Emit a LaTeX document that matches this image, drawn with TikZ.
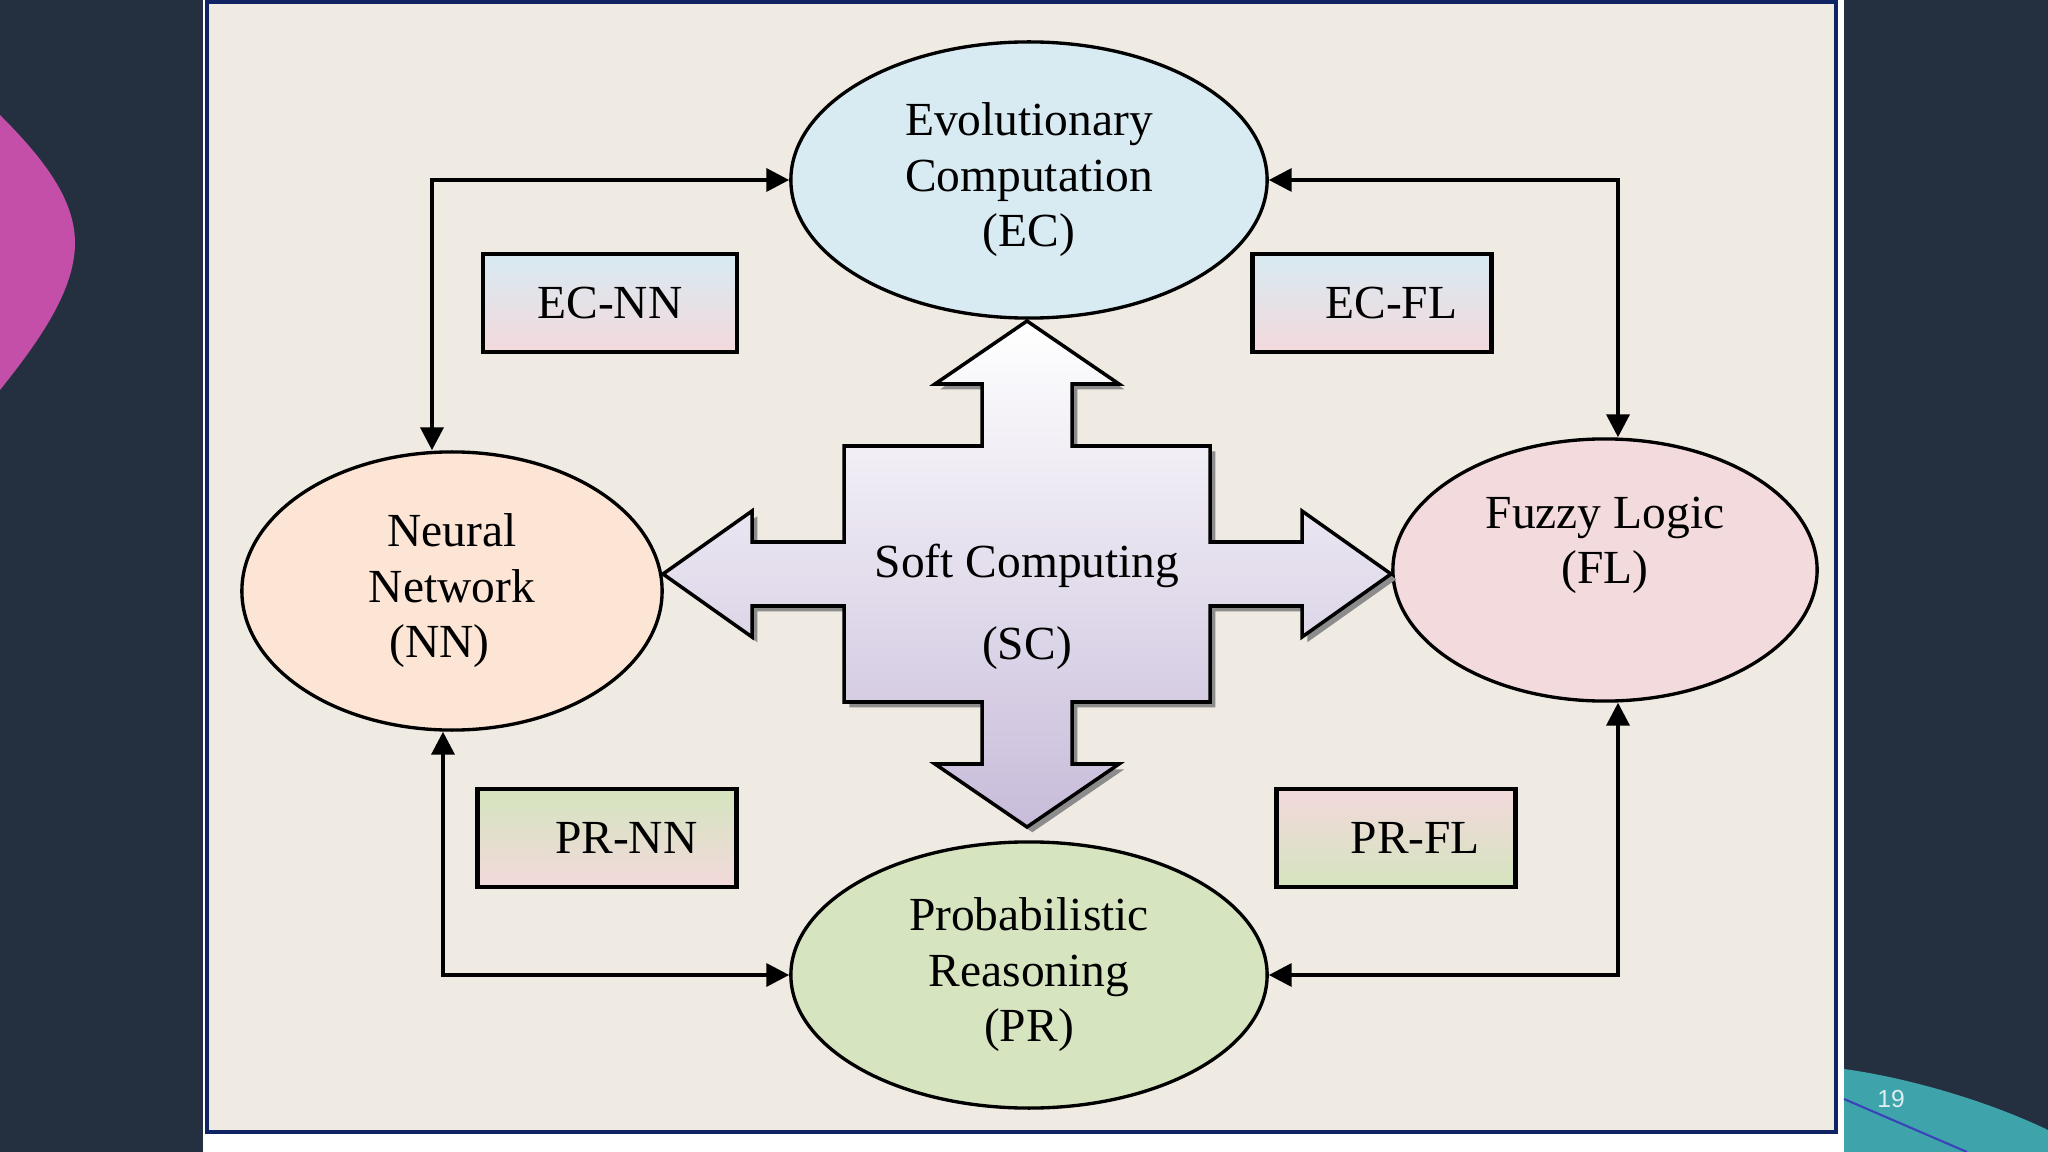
\documentclass[tikz,border=0pt]{standalone}
\usepackage{fontspec}
\setmainfont{Liberation Serif}
\newfontfamily\slidefont{Liberation Sans}
\usepackage{xcolor}
\usepackage{tikz}
\usetikzlibrary{shapes,arrows.meta,shadows}

\definecolor{slidebg}{RGB}{36,47,63}
\definecolor{slidepink}{RGB}{195,79,169}
\definecolor{slideteal}{RGB}{63,163,172}
\definecolor{slideline}{RGB}{57,68,184}
\definecolor{pagenum}{RGB}{220,238,240}
\definecolor{framenavy}{RGB}{16,36,100}
\definecolor{framefill}{RGB}{239,234,226}
\definecolor{ecfill}{RGB}{216,235,242}
\definecolor{nnfill}{RGB}{253,229,213}
\definecolor{flfill}{RGB}{242,218,221}
\definecolor{prfill}{RGB}{214,228,191}
\definecolor{sclav}{RGB}{200,188,218}
\definecolor{pairblue}{RGB}{216,234,242}
\definecolor{pairpink}{RGB}{243,217,220}
\definecolor{pairgreen}{RGB}{212,228,190}

\begin{document}
\begin{tikzpicture}[
    x=0.01cm, y=-0.01cm,
    font=\fontsize{13.5}{15.8}\selectfont,
    blob/.style={ellipse, draw, line width=0.95pt, inner sep=0pt, align=center},
    pair/.style={rectangle, draw, line width=1.3pt, minimum height=0.98cm, inner sep=0pt},
    link/.style={line width=1.1pt, {Triangle[length=6.5pt,width=6.5pt]}-{Triangle[length=6.5pt,width=6.5pt]}}
]
\useasboundingbox (0,0) rectangle (2048,1152);

% slide around the figure
\fill[slidebg] (0,0) rectangle (2048,1152);
\fill[slidepink] (0,115) .. controls (45,160) and (75,200) .. (75,243) .. controls (75,290) and (40,340) .. (0,390) -- cycle;
\fill[white] (203,0) rectangle (1844,1152);
\fill[slideteal] (1844,1069) .. controls (1910,1078) and (1990,1102) .. (2048,1130) -- (2048,1152) -- (1844,1152) -- cycle;
\draw[slideline, line width=0.6pt] (1844,1099) -- (1967,1152);
\node[font=\slidefont\fontsize{7}{8}\selectfont, text=pagenum] (pageno) at (1891,1099) {19};
\draw[framenavy, line width=1.3pt, fill=framefill] (207,2) rectangle (1836,1132);

% the four methods
\node[blob, fill=ecfill, minimum width=4.76cm, minimum height=2.76cm] (ec) at (1029,180) {Evolutionary\\Computation\\(EC)};
\node[blob, fill=nnfill, minimum width=4.2cm, minimum height=2.78cm] (nn) at (452,591) {Neural\\Network\\(NN)\hspace*{7pt}};
\node[blob, fill=flfill, minimum width=4.24cm, minimum height=2.62cm, text depth=17pt] (fl) at (1605,570) {Fuzzy Logic\\(FL)};
\node[blob, fill=prfill, minimum width=4.76cm, minimum height=2.66cm] (pr) at (1029,975) {Probabilistic\\Reasoning\\(PR)};

% hybrid boxes
\node[pair, top color=pairblue, bottom color=pairpink, minimum width=2.54cm] (ecnn) at (610,303) {EC-NN};
\node[pair, top color=pairblue, bottom color=pairpink, minimum width=2.39cm] (ecfl) at (1372,303) {\hspace*{11pt}EC-FL};
\node[pair, top color=pairgreen, bottom color=pairpink, minimum width=2.59cm] (prnn) at (607,838) {\hspace*{11pt}PR-NN};
\node[pair, top color=pairpink, bottom color=pairgreen, minimum width=2.39cm] (prfl) at (1396,838) {\hspace*{11pt}PR-FL};

% soft computing cross
\draw[line width=1pt, top color=white, bottom color=sclav,
      drop shadow={shadow xshift=1.5pt, shadow yshift=-1.5pt, fill=black!45, opacity=1},
      shift={(1027,574)}]
    (0,-253) -- (92,-190) -- (45,-190) -- (45,-128) -- (183,-128) -- (183,-32)
    -- (275,-32) -- (275,-63) -- (364,0) -- (275,63) -- (275,32) -- (183,32)
    -- (183,128) -- (45,128) -- (45,190) -- (92,190) -- (0,253) -- (-92,190)
    -- (-45,190) -- (-45,128) -- (-183,128) -- (-183,32) -- (-275,32) -- (-275,63)
    -- (-364,0) -- (-275,-63) -- (-275,-32) -- (-183,-32) -- (-183,-128) -- (-45,-128)
    -- (-45,-190) -- (-92,-190) -- cycle;
\node[align=center] (sc) at (1027,607) {Soft Computing\\[7.5pt](SC)};

% links between the methods
\draw[link] (ec.west) -| ([xshift=-2mm]nn.north);
\draw[link] (ec.east) -| ([xshift=1.3mm]fl.north);
\draw[link] (pr.west) -| ([xshift=-0.9mm]nn.south);
\draw[link] (pr.east) -| ([xshift=1.3mm]fl.south);

\end{tikzpicture}
\end{document}
